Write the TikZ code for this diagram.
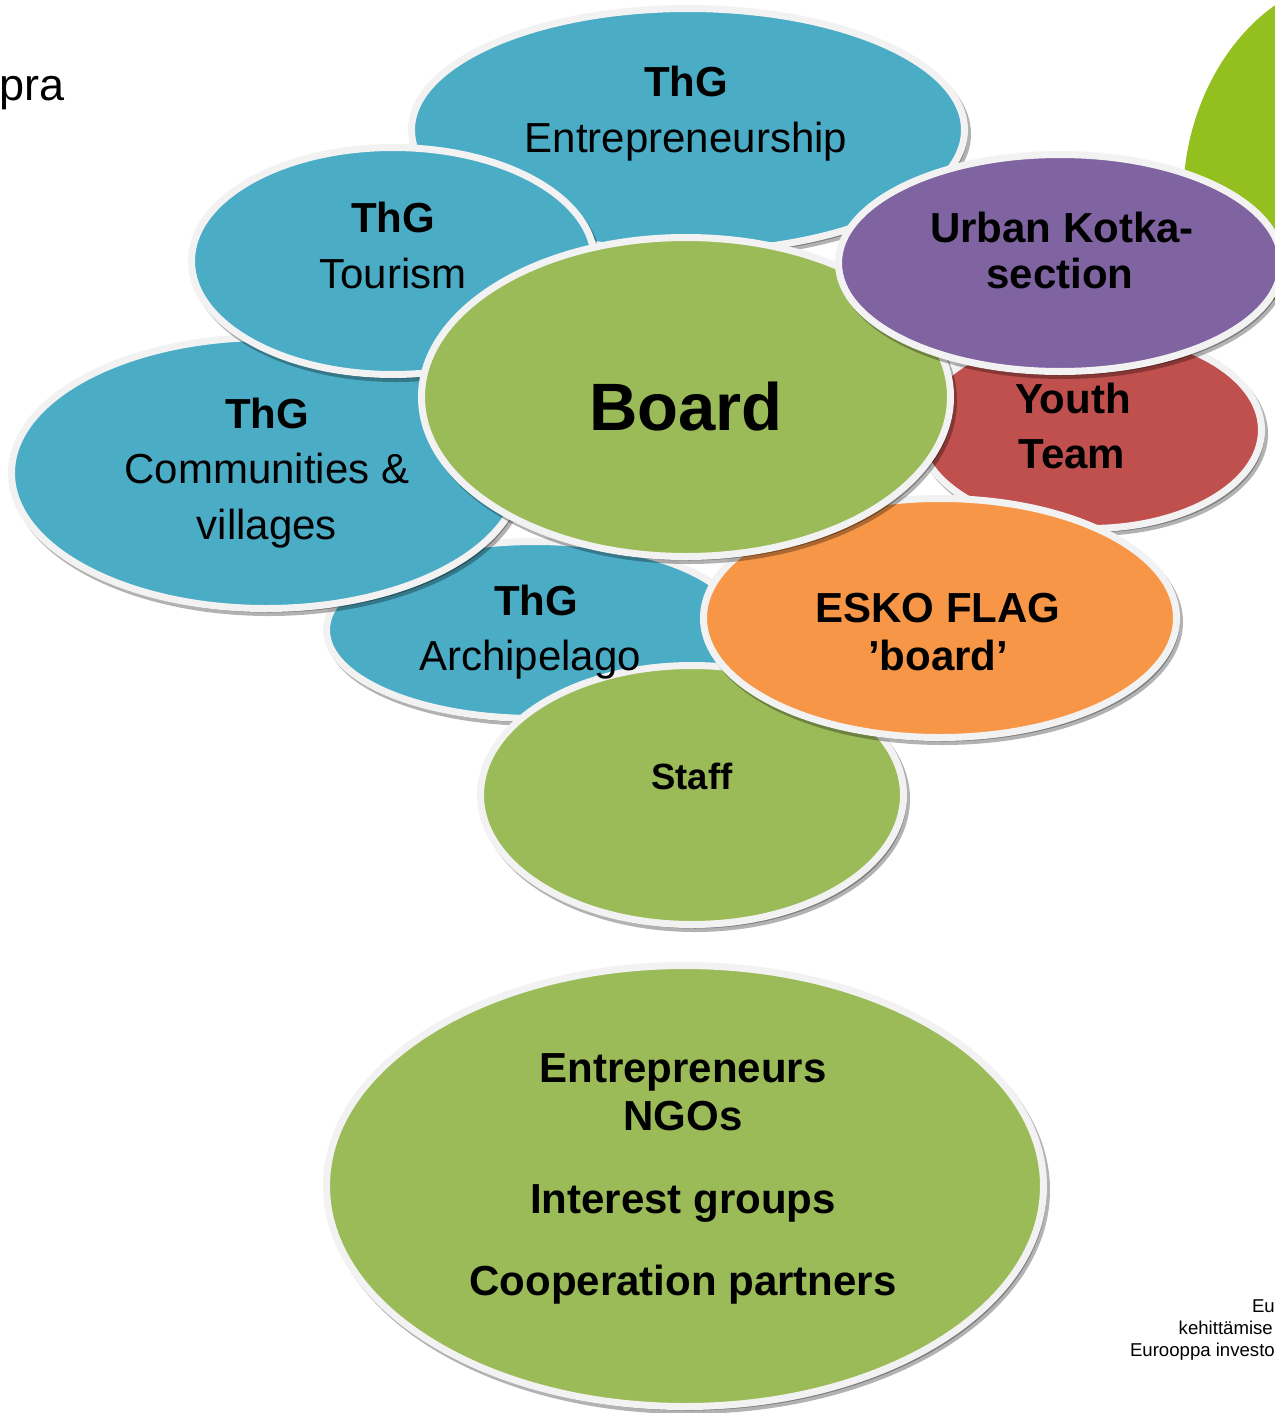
\documentclass[tikz,border=0pt]{standalone}
\usepackage{fontspec}
\setmainfont{Liberation Sans}
\usetikzlibrary{shapes.geometric,shadows}
\definecolor{cblue}{HTML}{4BACC6}
\definecolor{cgreen}{HTML}{9BBB59}
\definecolor{cpurple}{HTML}{8064A2}
\definecolor{cred}{HTML}{C0504D}
\definecolor{corange}{HTML}{F79646}
\definecolor{cbord}{HTML}{F2F2F2}
\definecolor{cleaf}{HTML}{93C01F}
\tikzset{
 bubble/.style={ellipse, fill=#1, draw=cbord, line width=7pt, inner sep=0pt,
   drop shadow={shadow xshift=3pt, shadow yshift=-4pt, fill=black, draw=black, line width=7pt, opacity=0.3}},
 lbl/.style={anchor=base, inner sep=0pt, font=\fontsize{42}{50}\selectfont},
 lblb/.style={anchor=base, inner sep=0pt, font=\fontsize{42}{50}\selectfont\bfseries},
 small/.style={anchor=base east, inner sep=0pt, font=\fontsize{18.6}{22}\selectfont},
}
\begin{document}
\begin{tikzpicture}[x=1pt,y=-1pt]
\useasboundingbox (0,0) rectangle (1274,1413);
% leaf in the corner
\fill[cleaf] (1274,6) .. controls (1226,40) and (1183,110) .. (1183,200) -- (1183,300) -- (1280,300) -- (1280,0) -- cycle;
% ellipses
\node[bubble=cblue, minimum width=417pt, minimum height=177pt] (arch) at (535,630) {};
\node[bubble=cblue, minimum width=509pt, minimum height=271pt] (comm) at (266,473) {};
\node[bubble=cblue, minimum width=553pt, minimum height=243pt] (entr) at (688,130) {};
\node[bubble=cblue, minimum width=403pt, minimum height=227pt] (tour) at (393,261) {};
\node[bubble=cgreen, minimum width=423pt, minimum height=259pt] (staff) at (692,795) {};
\node[bubble=cred, minimum width=343pt, minimum height=197pt] (youth) at (1090,430) {};
\node[bubble=corange, minimum width=473pt, minimum height=239pt] (esko) at (940,618) {};
\node[bubble=cgreen, minimum width=529pt, minimum height=319pt] (board) at (686,397) {};
\node[bubble=cpurple, minimum width=443pt, minimum height=217pt] (urban) at (1060,263) {};
\node[bubble=cgreen, minimum width=717pt, minimum height=441pt] (base) at (685,1186) {};
% texts
\node[lblb] (entr1) at (686,96) {ThG};
\node[lbl] (entr2) at (686,152) {Entrepreneurship};
\node[lblb] (tour1) at (393,232) {ThG};
\node[lbl] (tour2) at (393,288) {Tourism};
\node[lblb] (comm1) at (267,428) {ThG};
\node[lbl] (comm2) at (267,483) {Communities \&};
\node[lbl] (comm3) at (267,539) {villages};
\node[lblb] (arch1) at (536,615) {ThG};
\node[lbl] (arch2) at (530,670) {Archipelago};
\node[anchor=base, inner sep=0pt, font=\fontsize{67}{70}\selectfont\bfseries] (board1) at (686,430) {Board};
\node[lblb] (urban1) at (1062,242) {Urban Kotka-};
\node[lblb] (urban2) at (1060,288) {section};
\node[lblb] (youth1) at (1073,413) {Youth};
\node[lblb] (youth2) at (1072,468) {Team};
\node[lblb] (esko1) at (938,622) {ESKO FLAG};
\node[lblb] (esko2) at (938,670) {’board’};
\node[anchor=base, inner sep=0pt, font=\fontsize{36.5}{40}\selectfont\bfseries] (staff1) at (692,789) {Staff};
\node[lblb] (base1) at (683,1082) {Entrepreneurs};
\node[lblb] (base2) at (683,1130) {NGOs};
\node[lblb] (base3) at (683,1213) {Interest groups};
\node[lblb] (base4) at (683,1295) {Cooperation partners};
\node[anchor=base west, inner sep=0pt, font=\fontsize{45}{50}\selectfont] (pra) at (-1,100) {pra};
\node[small] (sm1) at (1275,1312) {Eu};
\node[small] (sm2) at (1273,1334) {kehittämise};
\node[small] (sm3) at (1275,1356) {Eurooppa investo};
\end{tikzpicture}
\end{document}
